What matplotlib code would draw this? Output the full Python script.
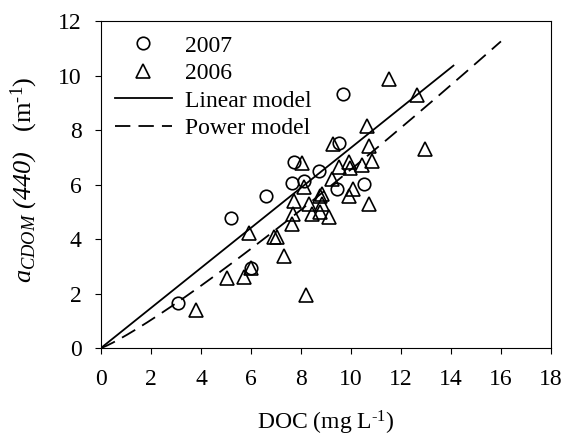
import matplotlib
matplotlib.use('Agg')
import matplotlib.pyplot as plt
import numpy as np

plt.rcParams['font.family'] = ['Liberation Serif', 'DejaVu Serif']
plt.rcParams['mathtext.fontset'] = 'custom'
plt.rcParams['mathtext.rm'] = 'Liberation Serif'
plt.rcParams['mathtext.it'] = 'Liberation Serif:italic'
# mathtext forces digits upright in 'it', so borrow 'bf' for italic digits
plt.rcParams['mathtext.bf'] = 'Liberation Serif:italic'

# 2007 samples (DOC, aCDOM(440))
doc_2007 = [3.1, 5.2, 6.0, 6.6, 7.63, 7.73, 8.13, 8.73, 9.43, 9.53, 9.7, 10.52]
acdom_2007 = [1.65, 4.77, 2.92, 5.57, 6.07, 6.82, 6.14, 6.5, 5.85, 7.51, 9.31, 6.02]

# 2006 samples
doc_2006 = [3.8, 5.03, 5.72, 5.91, 6.0, 6.93, 7.03, 7.33, 7.63, 7.69, 7.73,
            8.04, 8.13, 8.2, 8.33, 8.43, 8.76, 8.75, 8.85, 8.83, 9.13, 9.23,
            9.3, 9.52, 9.93, 10.07, 9.93, 9.96, 10.43, 10.73, 10.83, 10.73,
            10.63, 11.54, 12.65, 12.96]
acdom_2006 = [1.4, 2.56, 2.6, 4.22, 2.92, 4.07, 4.07, 3.38, 4.55, 4.92, 5.41,
              6.78, 5.92, 1.94, 5.29, 4.92, 4.98, 5.57, 5.65, 5.29, 4.8, 6.2,
              7.49, 6.64, 5.58, 5.85, 6.84, 6.6, 6.7, 5.28, 6.88, 7.41,
              8.15, 9.86, 9.28, 7.29]

# fitted models
lin_slope = 0.735
lin_xmax = 14.1
pow_a = 0.464
pow_b = 1.15
pow_xmax = 16.0

fig = plt.figure(figsize=(5.66, 4.36), dpi=100)
ax = fig.add_axes([0.1784, 0.2018, 0.795, 0.75])

ax.plot(doc_2007, acdom_2007, 'o', ms=9, mfc='none', mec='black', mew=1.2,
        label='2007')
ax.plot(doc_2006, acdom_2006, '^', ms=9.5, mfc='none', mec='black', mew=1.2,
        label='2006')

xl = np.linspace(0, lin_xmax, 50)
ax.plot(xl, lin_slope * xl, '-', color='black', lw=1.3, label='Linear model')
xp = np.linspace(0, pow_xmax, 200)
ax.plot(xp, pow_a * xp ** pow_b, '--', color='black', lw=1.3,
        dashes=(8.5, 4.5), label='Power model')

ax.set_xlim(0, 18)
ax.set_ylim(0, 12)
ax.set_xticks(np.arange(0, 19, 2))
ax.set_yticks(np.arange(0, 13, 2))
ax.tick_params(direction='out', length=4, labelsize=17, top=False,
               right=False)
ax.tick_params(axis='x', pad=11)
ax.tick_params(axis='y', pad=10)

ax.set_xlabel(r'DOC (mg L$^{\text{-}1}$)', fontsize=17)
ax.xaxis.set_label_coords(0.5, -0.185)
ax.set_ylabel(r'$\mathit{a}_{\mathit{CDOM}}\ \mathbf{(440)}$   (m$^{\text{-}1}$)',
              fontsize=19)
ax.yaxis.set_label_coords(-0.135, 0.515)

ax.legend(loc='upper left', frameon=False, fontsize=17, handlelength=2.4,
          borderaxespad=0.2, handletextpad=0.55, labelspacing=0.25,
          bbox_to_anchor=(0.0, 1.0))

fig.savefig('out.png', dpi=100)
